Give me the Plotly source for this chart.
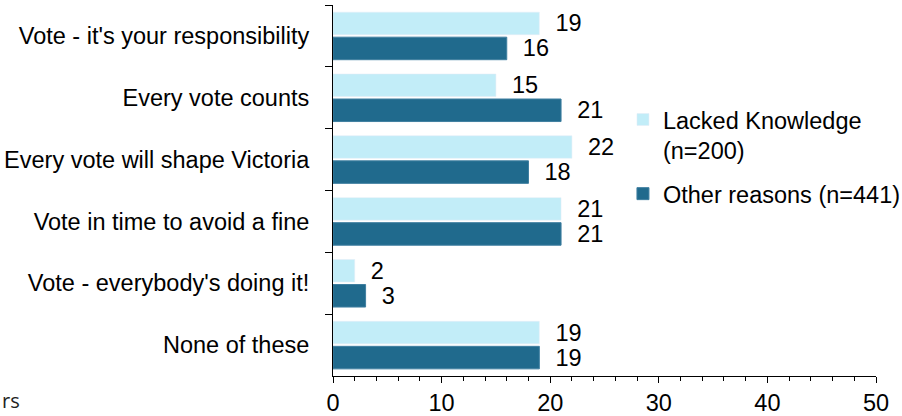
import plotly.graph_objects as go

categories = [
    "Vote - it's your responsibility",
    "Every vote counts",
    "Every vote will shape Victoria",
    "Vote in time to avoid a fine",
    "Vote - everybody's doing it!",
    "None of these",
]
lacked_knowledge = [19, 15, 22, 21, 2, 19]
other_reasons = [16, 21, 18, 21, 3, 19]
series_names = ["Lacked Knowledge<br>(n=200)", "Other reasons (n=441)"]
x_ticks = [0, 10, 20, 30, 40, 50]

FONT = "Liberation Sans, Arial, sans-serif"
FS = 23.5
PAD = "\u00a0\u00a0"

fig = go.Figure()
fig.add_trace(go.Bar(
    y=categories, x=lacked_knowledge, orientation="h", name=series_names[0],
    legendgroup="lacked",
    marker=dict(color="#C2EDF8"),
    text=[PAD + str(v) for v in lacked_knowledge], textposition="outside",
    constraintext="none", cliponaxis=False,
    textfont=dict(family=FONT, size=FS, color="black"),
))
fig.add_trace(go.Bar(
    y=categories, x=other_reasons, orientation="h", name=series_names[1],
    legendgroup="other",
    marker=dict(color="#206A8D", line=dict(color="#3F7FA0", width=1)),
    text=[PAD + str(v) for v in other_reasons], textposition="outside",
    constraintext="none", cliponaxis=False,
    textfont=dict(family=FONT, size=FS, color="black"),
))

fig.update_layout(
    width=902, height=416,
    margin=dict(l=333, r=26, t=5, b=40, autoexpand=False),
    paper_bgcolor="white", plot_bgcolor="white",
    barmode="group", bargap=0.19, bargroupgap=0.1,
    font=dict(family=FONT, size=FS, color="black"),
    showlegend=True,
    legend=dict(
        x=0.534, y=0.75, xanchor="left", yanchor="top",
        valign="top", traceorder="grouped",
        font=dict(family=FONT, size=FS, color="black"),
        bgcolor="rgba(0,0,0,0)", tracegroupgap=10,
    ),
    xaxis=dict(
        range=[0, 50], tickvals=x_ticks, showgrid=False, zeroline=False,
        showline=True, linecolor="black", linewidth=1,
        ticks="outside", ticklen=6, tickcolor="black",
        minor=dict(dtick=2, ticks="outside", ticklen=4, tickcolor="black", showgrid=False),
        tickfont=dict(family=FONT, size=FS, color="black"),
        automargin=False,
    ),
    yaxis=dict(
        autorange="reversed", showgrid=False, zeroline=False,
        showline=True, linecolor="black", linewidth=1,
        ticks="outside", ticklen=7, tickcolor="black", tickson="boundaries",
        ticklabelstandoff=18,
        tickfont=dict(family=FONT, size=FS, color="black"),
        automargin=False,
    ),
)

fig.add_annotation(
    text="rs", xref="paper", yref="paper",
    x=-333 / 543, y=-40 / 371, xanchor="left", yanchor="bottom",
    showarrow=False, font=dict(family="Open Sans, sans-serif", size=20, color="#222"),
)

fig.write_html(
    "out.html",
    config={"displayModeBar": False},
    post_script="document.body.style.margin='0';document.body.style.padding='0';",
)
